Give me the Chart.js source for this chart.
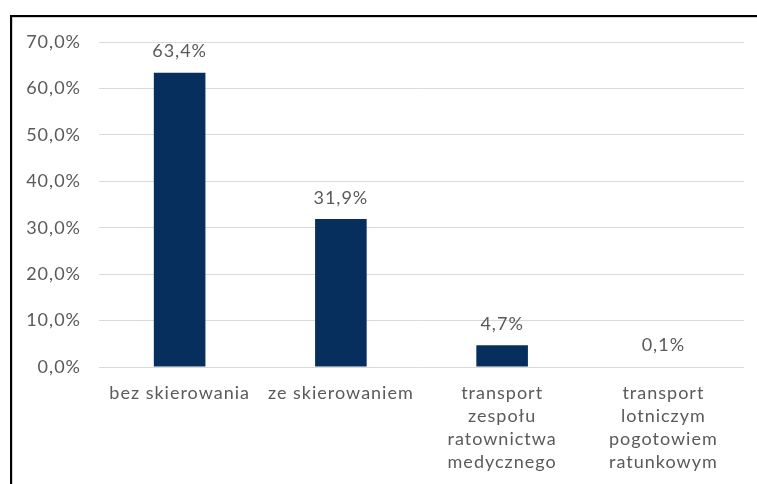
<!DOCTYPE html>
<html>
<head>
<meta charset="utf-8">
<script src="https://cdn.jsdelivr.net/npm/chart.js"></script>
<style>
  html, body { margin: 0; padding: 0; background: #fff; }
  body { width: 757px; height: 484px; position: relative; overflow: hidden; }
  .frame {
    position: absolute; left: 10px; top: 15px; right: -5px; bottom: -5px;
    border-top: 2px solid #000; border-left: 2px solid #000;
    box-shadow: inset 1px 1px 0 #d0d0d0;
  }
  #chart { position: absolute; left: 0; top: 0; }
</style>
</head>
<body>
<div class="frame"></div>
<canvas id="chart" width="757" height="484"></canvas>
<script>
// categories and shares (percent)
const categories = [
  "bez skierowania",
  "ze skierowaniem",
  ["transport", "zespołu", "ratownictwa", "medycznego"],
  ["transport", "lotniczym", "pogotowiem", "ratunkowym"]
];
const shares = [63.4, 31.9, 4.7, 0.1];
const yTicks = [0, 10, 20, 30, 40, 50, 60, 70];

const textColor = "#5a5a5a";
const fontFamily = "Lato, sans-serif";
const fontSize = 18;

const fmt = v => v.toFixed(1).replace(".", ",") + "%";

// wider tracking for all chart text (set before layout so measurements agree)
const tracking = {
  id: "tracking",
  beforeUpdate(chart) { chart.ctx.letterSpacing = "1px"; },
  beforeDraw(chart) { chart.ctx.letterSpacing = "1px"; }
};

// value labels above each bar
const valueLabels = {
  id: "valueLabels",
  afterDatasetsDraw(chart) {
    const ctx = chart.ctx;
    const meta = chart.getDatasetMeta(0);
    ctx.save();
    ctx.font = fontSize + "px " + fontFamily;
    ctx.fillStyle = textColor;
    ctx.textAlign = "center";
    ctx.textBaseline = "middle";
    meta.data.forEach((bar, i) => {
      ctx.fillText(fmt(shares[i]), bar.x, bar.y - 21);
    });
    ctx.restore();
  }
};

new Chart(document.getElementById("chart"), {
  type: "bar",
  data: {
    labels: categories,
    datasets: [{
      data: shares,
      backgroundColor: "#062f5e",
      barPercentage: 0.32,
      categoryPercentage: 1
    }]
  },
  options: {
    responsive: false,
    animation: false,
    layout: { padding: { left: 0, right: 13, top: 42, bottom: 0 } },
    plugins: { legend: { display: false }, tooltip: { enabled: false } },
    scales: {
      x: {
        grid: { display: false },
        border: { display: false },
        ticks: {
          color: textColor,
          font: { family: fontFamily, size: fontSize, lineHeight: 1.28 },
          maxRotation: 0,
          autoSkip: false,
          padding: 7
        },
        afterFit(scale) { scale.height = 117; }
      },
      y: {
        min: 0,
        max: 70,
        afterBuildTicks(scale) { scale.ticks = yTicks.map(v => ({ value: v })); },
        grid: { color: "#d9d9d9", lineWidth: 1, drawTicks: false },
        border: { display: false },
        ticks: {
          color: textColor,
          font: { family: fontFamily, size: fontSize },
          padding: 18,
          callback: v => fmt(v)
        },
        afterFit(scale) { scale.width = 99; }
      }
    }
  },
  plugins: [tracking, valueLabels]
});
</script>
</body>
</html>
